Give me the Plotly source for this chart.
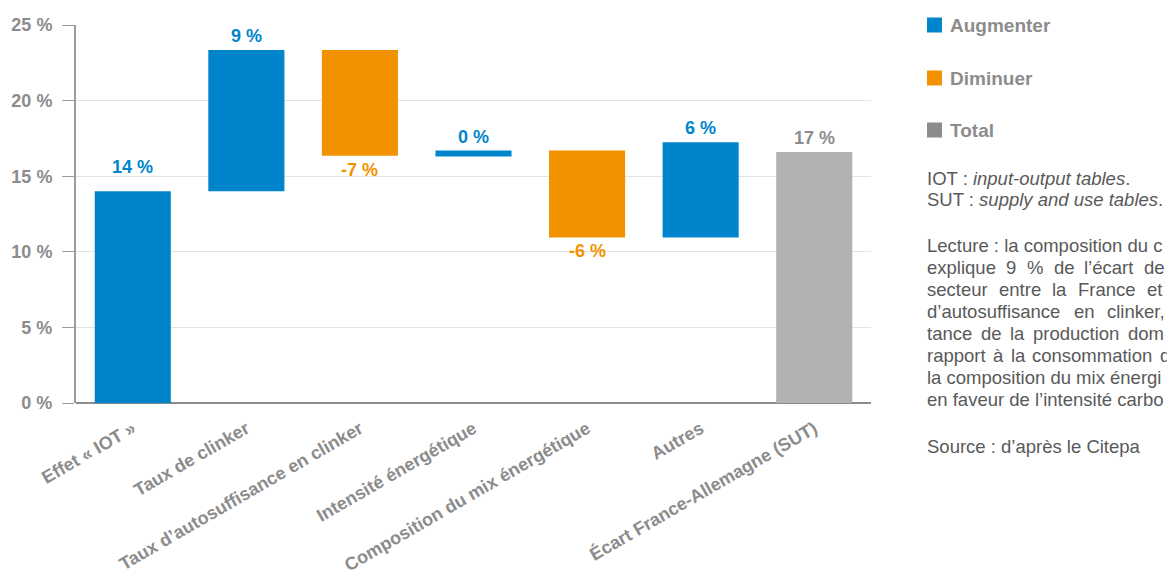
import plotly.graph_objects as go

# ---------------- data ----------------
categories = [
    "Effet « IOT »",
    "Taux de clinker",
    "Taux d’autosuffisance en clinker",
    "Intensité énergétique",
    "Composition du mix énergétique",
    "Autres",
    "Écart France-Allemagne (SUT)",
]
bar_base = [0.0, 14.0, 16.35, 16.3, 10.95, 10.95, 0.0]
bar_top = [14.0, 23.35, 23.35, 16.7, 16.7, 17.25, 16.6]
bar_kind = ["inc", "inc", "dec", "inc", "dec", "inc", "total"]
bar_labels = ["14 %", "9 %", "-7 %", "0 %", "-6 %", "6 %", "17 %"]

legend_names = ["Augmenter", "Diminuer", "Total"]
y_ticks = [0, 5, 10, 15, 20, 25]

note_lines = [
    "IOT : <i>input-output tables</i>.",
    "SUT : <i>supply and use tables</i>.",
]
lecture_lines = [
    "Lecture : la composition du c",
    "explique 9 % de l’écart de",
    "secteur entre la France et",
    "d’autosuffisance en clinker,",
    "tance de la production dom",
    "rapport à la consommation de",
    "la composition du mix énergi",
    "en faveur de l’intensité carbo",
]
source_line = "Source : d’après le Citepa"

# ---------------- style / layout ----------------
FONT = "Liberation Sans, Arial, Helvetica, sans-serif"
COLORS = {"inc": "#0085CC", "dec": "#F39200", "total": "#B2B2B2"}
LABEL_COLORS = {"inc": "#0085CC", "dec": "#F39200", "total": "#8C8C8C"}
LEGEND_COLORS = ["#0085CC", "#F39200", "#8C8C8C"]
GREY_TXT = "#8C8C8C"
NOTE_TXT = "#595959"
NOTE_SIZE = 18.5

# justified lines: pixel start of first and last word (None = natural spacing)
justify_span = [None, (927, 1144), (927, 1147), (927, 1107), (927, 1128), (927, 1160), None, None]

# Arial / Liberation Sans advance widths (1/1000 em)
CW = dict(a=556, b=556, c=500, d=556, e=556, f=278, g=556, h=556, i=222, j=222, k=500,
          l=222, m=833, n=556, o=556, p=556, q=556, r=333, s=500, t=278, u=556, v=500,
          w=722, x=500, y=500, z=500, F=611, A=667)
CW.update({"%": 889, "’": 222, "é": 556, "à": 556, ",": 278, " ": 278})
for dgt in "0123456789":
    CW[dgt] = 556


def text_w(s):
    return sum(CW.get(ch, 556) for ch in s) / 1000 * NOTE_SIZE


W, H = 1167, 574
ML, MR, MT, MB = 76, 296, 25, 171
PW, PH = W - ML - MR, H - MT - MB


def px_x(p):
    return (p - ML) / PW


def px_y(p):
    return (H - MB - p) / PH


fig = go.Figure()

for kind in ["inc", "dec", "total"]:
    idx = [i for i, k in enumerate(bar_kind) if k == kind]
    fig.add_trace(go.Bar(
        x=[categories[i] for i in idx],
        base=[bar_base[i] for i in idx],
        y=[bar_top[i] - bar_base[i] for i in idx],
        marker=dict(color=COLORS[kind], line=dict(width=0)),
        width=0.67,
        showlegend=False,
        hoverinfo="skip",
    ))

# value labels
extra_shift = [10, 0, 0, 0, 0, 0, 0]
annotations = []
for i, (cat, k, lab) in enumerate(zip(categories, bar_kind, bar_labels)):
    if k == "dec":
        yv, ya, ys = bar_base[i], "top", -2
    else:
        yv, ya, ys = bar_top[i], "bottom", 2 + extra_shift[i]
    annotations.append(dict(
        x=cat, y=yv, xref="x", yref="y", text=lab, showarrow=False,
        yanchor=ya, yshift=ys,
        font=dict(family=FONT, size=18, color=LABEL_COLORS[k], weight="bold"),
    ))

# custom legend
shapes = []
legend_y = [25, 78, 130]
for name, col, yy in zip(legend_names, LEGEND_COLORS, legend_y):
    shapes.append(dict(
        type="rect", xref="paper", yref="paper",
        x0=px_x(927), x1=px_x(942), y0=px_y(yy + 7.5), y1=px_y(yy - 7.5),
        fillcolor=col, line=dict(width=0),
    ))
    annotations.append(dict(
        x=px_x(948), y=px_y(yy), xref="paper", yref="paper", text=name,
        showarrow=False, xanchor="left", yanchor="middle",
        font=dict(family=FONT, size=19, color=GREY_TXT, weight="bold"),
    ))


# notes on the right
def add_text(text, xx, yy):
    annotations.append(dict(
        x=px_x(xx - 2), y=px_y(yy), xref="paper", yref="paper", text=text,
        showarrow=False, xanchor="left", yanchor="middle", align="left",
        font=dict(family=FONT, size=NOTE_SIZE, color=NOTE_TXT),
    ))


for j, t in enumerate(note_lines):
    add_text(t, 927, 178 + 22 * j)
for j, t in enumerate(lecture_lines):
    yy = 245 + 22 * j
    span = justify_span[j]
    if span is None:
        add_text(t, 927, yy)
    else:
        words = t.split(" ")
        x0, xlast = span
        inner = sum(text_w(w) for w in words[:-1])
        gap = (xlast - x0 - inner) / (len(words) - 1)
        xx = x0
        for w in words:
            add_text(w, xx, yy)
            xx += text_w(w) + gap
add_text(source_line, 927, 446)

fig.update_layout(
    width=W, height=H,
    margin=dict(l=ML, r=MR, t=MT, b=MB, pad=0, autoexpand=False),
    paper_bgcolor="white", plot_bgcolor="white",
    barmode="overlay",
    annotations=annotations,
    shapes=shapes,
    font=dict(family=FONT),
    xaxis=dict(
        type="category", categoryorder="array", categoryarray=categories,
        tickangle=-30, ticklabelstandoff=11, automargin=False,
        tickfont=dict(family=FONT, size=18, color=GREY_TXT, weight="bold"),
        showline=False, showgrid=False, ticks="", zeroline=False,
        fixedrange=True,
    ),
    yaxis=dict(
        range=[0, 25], tickvals=y_ticks, ticktext=[f"{v} %" for v in y_ticks],
        tickfont=dict(family=FONT, size=18, color=GREY_TXT, weight="bold"),
        ticklabelstandoff=6, automargin=False,
        showgrid=True, gridcolor="#E3E3E3", gridwidth=1,
        showline=True, linecolor="#9B9B9B", linewidth=2,
        ticks="outside", ticklen=12, tickcolor="#9B9B9B", tickwidth=1,
        zeroline=True, zerolinecolor="#8C8C8C", zerolinewidth=2,
        fixedrange=True,
    ),
)

fig.write_html("out.html")
